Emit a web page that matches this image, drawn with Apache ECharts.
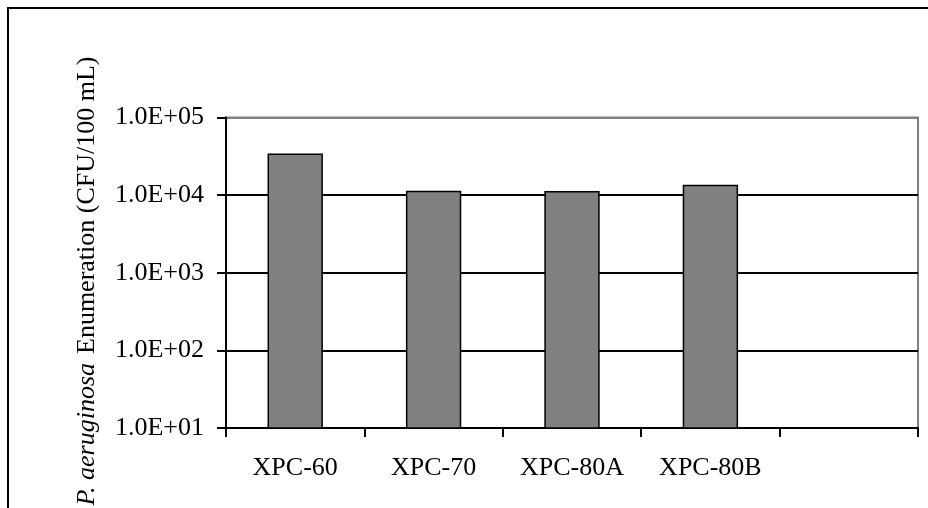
<!DOCTYPE html>
<html>
<head>
<meta charset="utf-8">
<script src="https://cdn.jsdelivr.net/npm/echarts@6/dist/echarts.min.js"></script>
<style>
html,body{margin:0;padding:0;background:#fff;}
#chart{width:928px;height:508px;}
</style>
</head>
<body>
<div id="chart"></div>
<script>
const categories = ['XPC-60', 'XPC-70', 'XPC-80A', 'XPC-80B', ''];
const values = [34500, 11400, 11300, 13600, '-'];
const yTickLabels = {1: '1.0E+01', 2: '1.0E+02', 3: '1.0E+03', 4: '1.0E+04', 5: '1.0E+05'};

const FONT = '"Liberation Serif", "Times New Roman", serif';
const chart = echarts.init(document.getElementById('chart'), null, {renderer: 'canvas'});
chart.setOption({
  animation: false,
  backgroundColor: '#ffffff',
  grid: {
    left: 226, top: 117.5, right: 10, bottom: 80,
    show: true, borderColor: '#808080', borderWidth: 2, backgroundColor: 'transparent'
  },
  xAxis: {
    type: 'category',
    data: categories,
    boundaryGap: true,
    axisLine: {show: true, lineStyle: {color: '#000', width: 2}},
    axisTick: {show: true, length: 9, lineStyle: {color: '#000', width: 2}},
    axisLabel: {color: '#000', fontFamily: FONT, fontSize: 26, margin: 27, interval: 0},
    splitLine: {show: false}
  },
  yAxis: {
    type: 'log',
    logBase: 10,
    min: 10,
    max: 100000,
    axisLine: {show: true, lineStyle: {color: '#000', width: 2}},
    axisTick: {show: true, length: 9, lineStyle: {color: '#000', width: 2}},
    axisLabel: {
      color: '#000', fontFamily: FONT, fontSize: 26, margin: 22,
      formatter: function (v) { const e = Math.round(Math.log10(v)); return yTickLabels[e] || ''; }
    },
    splitLine: {show: true, lineStyle: {color: ['#000', '#000', '#000', '#000', '#808080'], width: 2}}
  },
  series: [{
    type: 'bar',
    data: values,
    barWidth: '40%',
    itemStyle: {color: '#808080', borderColor: '#000', borderWidth: 1.5}
  }],
  graphic: [
    {
      type: 'rect',
      shape: {x: 8, y: 8, width: 960, height: 560},
      style: {fill: 'none', stroke: '#000', lineWidth: 2},
      silent: true
    },
    {
      type: 'text',
      x: 87, y: 281,
      rotation: Math.PI / 2,
      style: {
        text: '{i|P. aeruginosa} {s| }Enumeration (CFU/100 mL)',
        fill: '#000',
        font: '26px ' + FONT,
        align: 'center',
        verticalAlign: 'middle',
        rich: {
          i: {fontStyle: 'italic', fontFamily: FONT, fontSize: 26, fill: '#000'},
          s: {fontFamily: FONT, fontSize: 10, fill: '#000'}
        }
      }
    }
  ]
});
</script>
</body>
</html>
